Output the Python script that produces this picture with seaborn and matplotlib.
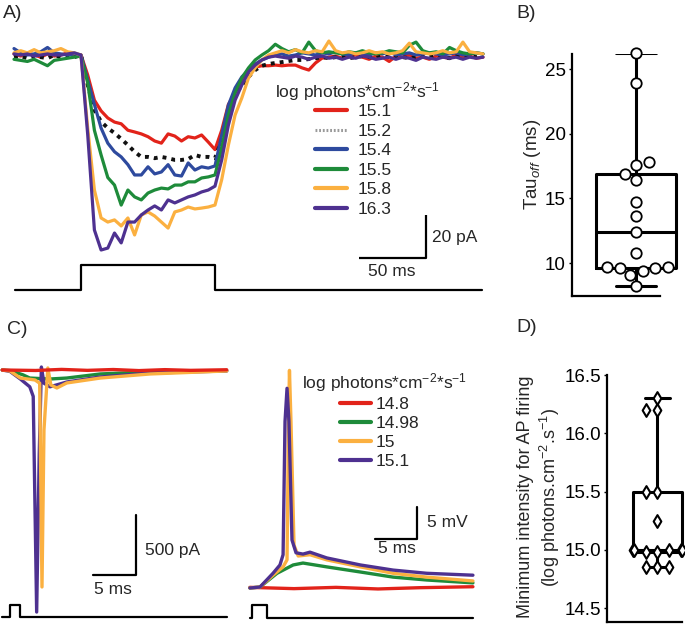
import numpy as np
import matplotlib
matplotlib.use("Agg")
import matplotlib.pyplot as plt
import seaborn as sns
from matplotlib.lines import Line2D

# ---------------- data ----------------
# Panel A: photocurrents (pA) sampled every 5 ms, light step 0-100 ms
t_A = np.arange(-50, 301, 5)
A_labels = ["15.1", "15.2", "15.4", "15.5", "15.8", "16.3"]
A_151 = [0.5, -0.5, 1.0, 0.0, -1.0, 0.5, -0.5, 0.0, 1.0, 0.0,
         0.0, -9.3, -21.0, -26.0, -29.3, -31.2, -32.0, -35.0, -35.8, -36.7, -38.0,
         -40.0, -41.0, -36.7, -37.7, -40.0, -38.0, -38.6, -37.2, -40.5, -44.0,
         -35.0, -23.0, -17.7, -11.6, -7.0, -5.6, -5.0, -5.0, -4.7, -5.0, -4.7, -4.7,
         -6.0, -7.0, -3.7, -1.4, -1.0,
         -0.5, -1.5, -0.5, 0.0, -1.0, -2.0, -0.5, -1.0, -3.0, -0.5, -1.0, 0.0,
         -1.5, -1.0, -2.0, -0.5, -1.0, -1.5, 0.0, -1.0, -0.5, -1.5, -1.0]
A_152 = [-1.0, -0.5, -1.5, -0.5, -1.0, -1.5, 0.0, -1.0, -0.5, -1.0,
         0.0, -14.0, -25.6, -31.0, -34.0, -36.3, -39.0, -41.9, -45.0, -47.4, -47.4,
         -48.0, -47.4, -48.0, -48.8, -48.8, -48.4, -46.5, -47.4, -47.4, -48.0,
         -39.5, -29.3, -18.6, -14.0, -10.2, -7.0, -5.0, -4.2, -3.7, -3.3, -2.8, -2.3,
         -2.3, -1.9, -1.5, -1.0, -1.5,
         -1.0, -0.5, -1.5, -1.0, -0.5, -1.0, -1.5, -0.5, -1.0, -0.5, -1.0, -1.5,
         -1.0, -0.5, -1.0, -0.5, -1.0, -1.5, -0.5, -1.0, -0.5, -1.0, -0.5]
A_154 = [3.0, 1.0, 0.0, 0.5, 1.5, 3.5, 1.0, 0.5, 0.0, 0.5,
         0.0, -11.6, -23.0, -34.0, -41.0, -45.0, -47.4, -51.0, -55.8, -55.8, -52.0,
         -55.3, -54.4, -51.0, -55.8, -56.3, -50.2, -53.5, -52.0, -52.6, -51.6,
         -37.2, -23.3, -15.3, -10.2, -7.0, -4.2, -2.3, -1.0, 0.0, 0.5, -0.5, 0.0,
         1.0, 0.5, 0.0, 1.0, 0.5,
         1.5, 0.5, 0.0, 1.0, 0.5, 0.0, 1.0, 0.5, 1.5, 0.0, 0.5, 1.0,
         0.0, 0.5, 1.0, 0.5, 0.0, 0.5, 1.0, 0.0, 0.5, 1.0, 0.5]
A_155 = [-2.0, -2.5, -3.0, -2.0, -3.5, -5.0, -2.5, -2.0, -1.5, -1.0,
         -0.5, -13.0, -35.0, -46.5, -57.0, -60.5, -69.8, -62.8, -66.0, -67.4, -64.2,
         -62.8, -61.9, -62.3, -60.5, -60.5, -59.0, -59.0, -57.2, -56.7, -55.8,
         -43.3, -27.9, -17.7, -10.7, -6.0, -2.3, 0.0, 2.0, 5.0, 3.0, 1.5, 2.5,
         1.0, 6.0, 2.0, 1.0, 1.5,
         1.0, 0.5, 1.5, 1.0, 2.0, 1.0, 0.5, 1.0, 2.0, 1.5, 1.0, 4.5,
         6.0, 2.0, 1.0, 1.5, 0.5, 3.5, 2.0, 1.0, 0.5, 1.0, 0.5]
A_158 = [1.0, 2.0, 1.0, 2.5, 1.0, 1.5, 2.0, 3.0, 1.5, 1.0,
         0.0, -34.0, -62.8, -75.8, -77.7, -76.7, -79.5, -75.8, -83.7, -74.4, -73.0,
         -74.9, -77.7, -80.5, -73.0, -72.1, -70.7, -71.6, -71.2, -70.7, -69.8,
         -58.0, -41.9, -27.9, -20.0, -10.7, -6.0, -2.3, 0.0, 1.0, 2.0, 1.0, 2.5,
         1.5, 1.0, 2.0, 1.5, 6.5,
         2.0, 1.0, 1.5, 0.5, 1.0, 2.0, 1.0, 1.5, 0.5, 1.0, 2.0, 5.5,
         1.5, 1.0, 0.5, 1.0, 2.0, 1.0, 1.5, 6.0, 1.5, 1.0, 0.5]
A_163 = [0.5, 0.0, 0.5, -0.5, 0.0, 0.5, 0.0, 0.0, 0.5, 1.0,
         0.0, -37.0, -81.4, -90.7, -89.8, -82.8, -87.4, -77.7, -77.7, -74.4, -72.1,
         -70.2, -72.1, -67.4, -68.8, -67.4, -66.0, -65.1, -63.7, -62.8, -61.0,
         -48.8, -32.6, -21.0, -14.0, -7.9, -4.7, -2.3, -1.0, -0.5, -1.0, -1.5, -0.5,
         -1.0, -2.0, -1.0, -0.5, -1.5,
         -1.0, -2.0, -1.0, -1.5, -0.5, -1.0, -2.0, -1.5, -1.0, -2.0, -1.0, -1.5,
         -2.5, -1.0, -1.5, -2.0, -1.0, -1.5, -1.0, -2.0, -1.0, -1.5, -1.0]
A_series = [A_151, A_152, A_154, A_155, A_158, A_163]
A_stim_t = [-49, 0, 100, 299]
A_stim_on = [0, 1, 0, 0]

# Panel B: Tau_off (ms)
tau_off = [26.2, 23.9, 17.8, 17.6, 16.9, 16.4, 14.7, 13.6, 12.4, 10.8,
           9.7, 9.7, 9.6, 9.6, 9.4, 9.1, 8.25]

# Panel C left: currents (pA)
C_labels = ["14.8", "14.98", "15", "15.1"]
cl_t_148 = [-0.9, 3, 6, 9, 12, 15, 18, 21, 25.2]
cl_i_148 = [0, -4, 5, -3, 4, -5, 3, -3, 2]
cl_t_1498 = [-0.9, 0.0, 1.5, 2.3, 4.65, 6.6, 10.5, 16.3, 25.2]
cl_i_1498 = [0, -5, -40, -67, -75, -67, -33, -15, -5]
cl_t_15 = [-0.9, 0.0, 1.2, 2.9, 3.45, 3.72, 3.95, 4.4, 4.75, 5.45, 6.6, 10.5, 16.3, 25.2]
cl_i_15 = [0, -8, -67, -83, -110, -1808, -500, 17, -125, -150, -108, -67, -33, -8]
cl_t_151 = [-0.9, 0.0, 1.2, 2.3, 2.7, 3.1, 3.4, 3.65, 3.95, 4.65, 6.6, 10.5, 16.3, 25.2]
cl_i_151 = [0, -12, -75, -140, -220, -2017, -700, 25, -110, -140, -100, -58, -25, -8]
cl_stim_t = [-0.93, 0, 1.16, 25.2]
cl_stim_on = [0, 1, 0, 0]

# Panel C right: voltages (mV)
cr_t_148 = [-0.25, 5, 10, 15, 20, 26.3]
cr_v_148 = [0.1, -0.1, 0.1, -0.15, 0.05, 0.2]
cr_t_1498 = [-0.25, 0.95, 2.98, 4.9, 6.07, 8.9, 12.9, 16.8, 20.8, 26.3]
cr_v_1498 = [0, 0.15, 2.3, 3.6, 3.9, 3.3, 2.5, 1.7, 1.25, 0.8]
cr_t_15 = [-0.25, 0.95, 2.5, 3.7, 4.17, 4.35, 4.46, 4.64, 5.0, 5.5, 6.9, 8.9, 12.9, 16.8, 20.8, 26.3]
cr_v_15 = [0, 0.15, 2.0, 3.3, 4.4, 26, 34, 26, 6.7, 5.0, 5.2, 4.4, 3.3, 2.3, 1.7, 1.1]
cr_t_151 = [-0.25, 0.95, 2.5, 3.33, 3.7, 3.93, 4.17, 4.4, 4.76, 5.24, 6.07, 6.9, 8.9, 12.9, 16.8, 20.8, 26.3]
cr_v_151 = [0, 0.15, 2.3, 3.6, 5.2, 26, 31.2, 26, 7.5, 5.5, 5.3, 5.6, 4.7, 3.6, 2.8, 2.3, 2.0]
cr_stim_t = [-0.25, 0, 1.8, 26.3]
cr_stim_on = [0, 1, 0, 0]

# Panel D: minimum intensity for AP firing
min_intensity = [16.3, 16.2, 16.2, 15.5, 15.5, 15.25, 15.0, 15.0, 15.0, 15.0,
                 15.0, 14.98, 14.98, 14.85, 14.85, 14.85]

# ---------------- style ----------------
sns.set_style("white")
plt.rcParams["font.family"] = ["Liberation Sans", "DejaVu Sans"]
plt.rcParams["mathtext.fontset"] = "custom"
plt.rcParams["mathtext.rm"] = "Liberation Sans"
plt.rcParams["mathtext.it"] = "Liberation Sans:italic"
plt.rcParams["mathtext.bf"] = "Liberation Sans:bold"

RED, BLACK, BLUE, GREEN, YEL, PUR = "#E2231A", "#111111", "#2E4A9E", "#1E8B3A", "#FBB040", "#4E3190"
A_colors = [RED, BLACK, BLUE, GREEN, YEL, PUR]
FS = 12.5

W, H = 685, 628
fig = plt.figure(figsize=(W / 100, H / 100), dpi=100)


def px_axes(x0, x1, y0, y1):
    return fig.add_axes([x0 / W, 1 - y1 / H, (x1 - x0) / W, (y1 - y0) / H])


# ---------------- Panel A ----------------
axA = px_axes(10, 488, 30, 300)
for vals, c, lab in zip(A_series, A_colors, A_labels):
    if lab == "15.2":
        sns.lineplot(x=t_A, y=vals, ax=axA, color=c, linewidth=2.8, estimator=None,
                     sort=False, legend=False, linestyle=(0, (1, 1.3)), dash_capstyle="butt")
    else:
        sns.lineplot(x=t_A, y=vals, ax=axA, color=c, linewidth=2.3, estimator=None,
                     sort=False, legend=False)
stimA = [-109.3 + 11.6 * s for s in A_stim_on]
axA.step(A_stim_t, stimA, where="post", color="black", lw=1.6)
# scale bar 50 ms / 20 pA
bx, by = 257.5, -94.4
axA.plot([bx - 50, bx, bx], [by, by, by + 20], color="black", lw=1.6, solid_capstyle="butt")
axA.text(bx + 4.5, by + 9.3, "20 pA", fontsize=FS, ha="left", va="center")
axA.text(bx - 25.5, by - 6.5, "50 ms", fontsize=FS, ha="center", va="center")
axA.set_xlim((10 - 81) / 1.34, (488 - 81) / 1.34)
axA.set_ylim((55 - 300) / 2.15, (55 - 30) / 2.15)
axA.set_axis_off()

handlesA = []
for c, lab in zip(A_colors, A_labels):
    if lab == "15.2":
        handlesA.append(Line2D([], [], color="#9a9a9a", lw=2.2, ls=(0, (0.6, 0.6))))
    else:
        handlesA.append(Line2D([], [], color=c, lw=3))
fig.legend(handlesA, A_labels, loc="upper left", bbox_to_anchor=(315 / W, 1 - 104 / H),
           frameon=False, fontsize=FS, handlelength=1.85, handletextpad=0.6,
           labelspacing=0.25, borderpad=0, borderaxespad=0)
fig.text(275 / W, 1 - 92 / H, "log photons*cm$^{-2}$*s$^{-1}$", fontsize=FS, ha="left", va="center")

# ---------------- Panel B ----------------
axB = px_axes(572, 680, 54, 296)
sns.boxplot(y=tau_off, ax=axB, width=0.8, fill=False, color="black", linewidth=2.2,
            whis=(0, 100))
sns.swarmplot(y=tau_off, ax=axB, color="white", edgecolor="black", linewidth=1.3,
              size=7.5, marker="o", clip_on=False)
axB.set_xlim(-0.64, 0.44)
axB.set_ylim(7.45, 26.16)
axB.set_yticks([10, 15, 20, 25])
axB.set_xticks([])
for s in ["top", "right"]:
    axB.spines[s].set_visible(False)
for s in ["left", "bottom"]:
    axB.spines[s].set_color("black")
    axB.spines[s].set_linewidth(1.6)
axB.spines["bottom"].set_bounds(-0.64, 0.24)
axB.tick_params(axis="y", left=True, length=2.5, width=1, labelsize=13.5, pad=2, colors="black")
axB.set_ylabel("Tau$_{off}$ (ms)", fontsize=13.5)
axB.yaxis.set_label_coords(-0.27, 0.545)

# ---------------- Panel C left ----------------
axCL = px_axes(0, 235, 350, 628)
for tt, vv, c in [(cl_t_1498, cl_i_1498, GREEN), (cl_t_151, cl_i_151, PUR),
                  (cl_t_15, cl_i_15, YEL), (cl_t_148, cl_i_148, RED)]:
    sns.lineplot(x=tt, y=vv, ax=axCL, color=c, linewidth=2.4, estimator=None,
                 sort=False, legend=False)
stimCL = [-2058 + 100 * s for s in cl_stim_on]
axCL.step(cl_stim_t, stimCL, where="post", color="black", lw=1.6)
cbx, cby = 14.65, -1708
axCL.plot([cbx - 5, cbx, cbx], [cby, cby, cby + 500], color="black", lw=1.6)
axCL.text(cbx + 1.05, cby + 208, "500 pA", fontsize=FS, ha="left", va="center")
axCL.text(cbx - 2.65, cby - 125, "5 ms", fontsize=FS, ha="center", va="center")
axCL.set_xlim((0 - 10) / 8.6, (235 - 10) / 8.6)
axCL.set_ylim((370 - 628) / 0.12, (370 - 350) / 0.12)
axCL.set_axis_off()

# ---------------- Panel C right ----------------
axCR = px_axes(244, 485, 350, 628)
for tt, vv, c in [(cr_t_148, cr_v_148, RED), (cr_t_1498, cr_v_1498, GREEN),
                  (cr_t_15, cr_v_15, YEL), (cr_t_151, cr_v_151, PUR)]:
    sns.lineplot(x=tt, y=vv, ax=axCR, color=c, linewidth=2.4, estimator=None,
                 sort=False, legend=False)
stimCR = [-4.69 + 2.03 * s for s in cr_stim_on]
axCR.step(cr_stim_t, stimCR, where="post", color="black", lw=1.6)
rbx, rby = 19.64, 7.66
axCR.plot([rbx - 5, rbx, rbx], [rby, rby, rby + 5], color="black", lw=1.6)
axCR.text(rbx + 1.15, rby + 2.55, "5 mV", fontsize=FS, ha="left", va="center")
axCR.text(rbx - 2.35, rby - 1.55, "5 ms", fontsize=FS, ha="center", va="center")
axCR.set_xlim((244 - 252) / 8.4, (485 - 252) / 8.4)
axCR.set_ylim((588 - 628) / 6.4, (588 - 350) / 6.4)
axCR.set_axis_off()

handlesC = [Line2D([], [], color=c, lw=3) for c in [RED, GREEN, YEL, PUR]]
fig.legend(handlesC, C_labels, loc="upper left", bbox_to_anchor=(340 / W, 1 - 397 / H),
           frameon=False, fontsize=FS, handlelength=1.8, handletextpad=0.25,
           labelspacing=0.22, borderpad=0, borderaxespad=0)
fig.text(302 / W, 1 - 383 / H, "log photons*cm$^{-2}$*s$^{-1}$", fontsize=FS, ha="left", va="center")

# ---------------- Panel D ----------------
axD = px_axes(607, 685, 375, 622)
sns.boxplot(y=min_intensity, ax=axD, width=0.8, fill=False, color="black", linewidth=2.2,
            whis=(0, 100))
sns.swarmplot(y=min_intensity, ax=axD, color="white", edgecolor="black", linewidth=1.5,
              size=6.5, marker="d", clip_on=False)
axD.set_xlim(-0.824, 0.449)
axD.set_ylim(14.38, 16.5)
axD.set_yticks([14.5, 15.0, 15.5, 16.0, 16.5])
axD.set_yticklabels(["14.5", "15.0", "15.5", "16.0", "16.5"])
axD.set_xticks([])
for s in ["top", "right"]:
    axD.spines[s].set_visible(False)
for s in ["left", "bottom"]:
    axD.spines[s].set_color("black")
    axD.spines[s].set_linewidth(1.6)
axD.spines["bottom"].set_bounds(-0.824, 0.4)
axD.tick_params(axis="y", left=True, length=2.5, width=1, labelsize=13.5, pad=2, colors="black")
axD.set_ylabel("Minimum intensity for AP firing\n(log photons.cm$^{-2}$.s$^{-1}$)", fontsize=13)
axD.yaxis.set_label_coords(-0.577, 0.506)

# ---------------- panel letters ----------------
for lab, x, y in [("A)", 3, 14), ("B)", 516, 14), ("C)", 7, 330), ("D)", 516, 328)]:
    fig.text(x / W, 1 - y / H, lab, fontsize=14, ha="left", va="center")

fig.savefig("out.png", dpi=100)
